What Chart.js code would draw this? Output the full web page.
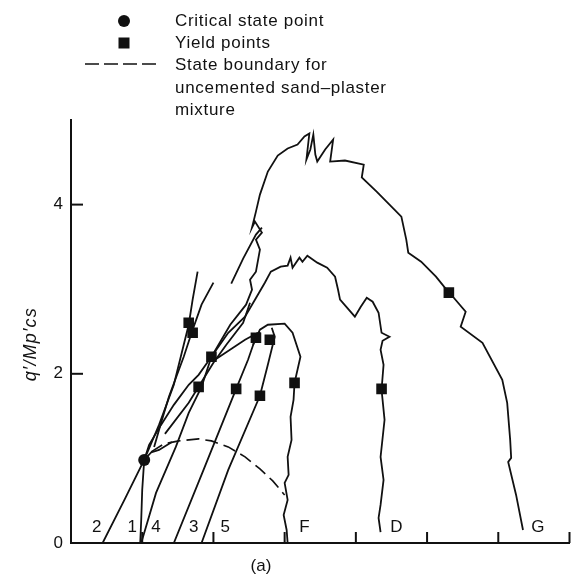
<!DOCTYPE html>
<html>
<head>
<meta charset="utf-8">
<script src="https://cdn.jsdelivr.net/npm/chart.js@4/dist/chart.umd.min.js"></script>
<style>
  html, body { margin: 0; padding: 0; background: #fff; }
  #wrap { width: 577px; height: 580px; position: relative; }
</style>
</head>
<body>
<div id="wrap"><canvas id="c" width="577" height="580"></canvas></div>
<script>
// ---- Data (x = p'/p'cs-type axis, y = q'/Mp'cs) ----
const curve2 = [[0.444,0],[0.75,0.509],[1.028,0.982],[1.236,1.396],[1.444,1.870],[1.583,2.343],[1.653,2.580],[1.708,2.876],[1.778,3.207]];
const curve2b = [[1.167,1.136],[1.278,1.456],[1.375,1.728],[1.583,2.201],[1.694,2.485],[1.833,2.817],[2.0,3.077]];
const curve1D = [[0.972,0],[0.986,0.272],[1.0,0.627],[1.028,0.982],[1.097,1.160],[1.264,1.396],[1.444,1.633],[1.653,1.870],[1.792,1.988],[1.972,2.201],[2.208,2.485],[2.444,2.675],[2.583,2.876],[2.722,3.077],[2.806,3.207],[2.944,3.266],[3.042,3.278],[3.083,3.373],[3.111,3.254],[3.208,3.373],[3.25,3.325],[3.319,3.396],[3.458,3.314],[3.597,3.254],[3.708,3.148],[3.75,2.994],[3.778,2.876],[3.986,2.675],[4.069,2.793],[4.153,2.899],[4.236,2.852],[4.319,2.722],[4.361,2.485],[4.472,2.438],[4.375,2.391],[4.347,2.284],[4.389,2.107],[4.361,1.811],[4.403,1.456],[4.347,1.018],[4.389,0.746],[4.347,0.450],[4.319,0.296],[4.347,0.130]];
const curve1Branch = [[1.028,0.982],[1.125,1.07],[1.236,1.10],[1.417,1.195]];
const curve4G = [[0.986,0],[1.194,0.592],[1.472,1.136],[1.653,1.538],[1.833,1.846],[1.972,2.201],[2.236,2.580],[2.458,2.817],[2.542,2.994],[2.514,3.112],[2.597,3.207],[2.653,3.467],[2.597,3.586],[2.681,3.669],[2.583,3.799],[2.542,3.728],[2.597,3.917],[2.653,4.118],[2.764,4.391],[2.903,4.580],[3.042,4.663],[3.181,4.710],[3.278,4.805],[3.347,4.840],[3.306,4.533],[3.361,4.651],[3.403,4.828],[3.431,4.592],[3.458,4.509],[3.569,4.651],[3.681,4.769],[3.639,4.509],[3.847,4.521],[4.111,4.473],[4.083,4.320],[4.292,4.154],[4.639,3.858],[4.708,3.586],[4.736,3.432],[4.917,3.325],[5.125,3.148],[5.306,2.959],[5.375,2.899],[5.542,2.734],[5.472,2.556],[5.778,2.367],[6.056,1.929],[6.125,1.657],[6.167,1.219],[6.181,1.006],[6.139,0.959],[6.25,0.568],[6.347,0.154]];
const strandA = [[1.319,1.290],[1.653,1.657],[1.861,1.941],[2.000,2.130],[2.181,2.343],[2.417,2.604],[2.514,2.840]];
const strandB = [[2.0,2.154],[2.444,2.402],[2.625,2.485]];
const strandC = [[2.250,3.065],[2.417,3.361],[2.597,3.645],[2.681,3.728]];
const curve3 = [[1.444,0],[1.861,0.864],[2.319,1.822],[2.486,2.166],[2.583,2.402],[2.653,2.497]];
const curve5 = [[1.833,0],[2.208,0.864],[2.653,1.740],[2.764,2.107],[2.861,2.438],[2.819,2.544]];
const curveF = [[2.556,2.343],[2.653,2.521],[2.764,2.580],[3.0,2.592],[3.111,2.485],[3.222,2.201],[3.139,1.893],[3.125,1.692],[3.083,1.491],[3.097,1.219],[3.042,1.018],[3.056,0.805],[3.0,0.710],[3.042,0.509],[2.986,0.331],[3.028,0.154],[3.042,0]];
const stateBoundary = [[1.125,1.077],[1.306,1.172],[1.514,1.207],[1.792,1.231],[1.972,1.207],[2.208,1.136],[2.444,1.018],[2.653,0.876],[2.833,0.734],[3.0,0.568]];
const criticalPoints = [[1.028,0.982]];
const yieldPoints = [[1.653,2.604],[1.708,2.485],[1.972,2.201],[1.792,1.846],[2.319,1.822],[2.653,1.740],[3.139,1.893],[4.361,1.822],[5.306,2.959],[2.597,2.426],[2.792,2.402]];
const yTickValues = [0, 2, 4];
const xTickValues = [1, 2, 3, 4, 5, 6, 7];
const curveLabels = [['2',0.361],['1',0.861],['4',1.194],['3',1.722],['5',2.167],['F',3.278],['D',4.569],['G',6.556]];
const legendItems = ['Critical state point', 'Yield points', 'State boundary for', 'uncemented sand\u2013plaster', 'mixture'];
const yTitle = "q\u2032/Mp\u2032cs";
const xTitle = '(a)';

const toXY = arr => arr.map(p => ({x: p[0], y: p[1]}));
const INK = '#111';
const FONT = '"Liberation Sans", Arial, sans-serif';

function lineSet(arr, extra) {
  return Object.assign({
    type: 'scatter', data: toXY(arr), showLine: true, borderColor: INK,
    borderWidth: 1.8, pointRadius: 0, tension: 0, fill: false
  }, extra || {});
}

const datasets = [
  lineSet(curve2), lineSet(curve2b), lineSet(curve1D), lineSet(curve1Branch),
  lineSet(curve4G), lineSet(strandA), lineSet(strandB), lineSet(strandC),
  lineSet(curve3), lineSet(curve5), lineSet(curveF),
  lineSet(stateBoundary, {borderDash: [13, 6], borderWidth: 1.6}),
  {type: 'scatter', data: toXY(yieldPoints), pointStyle: 'rect', pointRadius: 7.5,
   backgroundColor: INK, borderColor: INK, borderWidth: 0},
  {type: 'scatter', data: toXY(criticalPoints), pointStyle: 'circle', pointRadius: 6,
   backgroundColor: INK, borderColor: INK, borderWidth: 0}
];

const decor = {
  id: 'decor',
  afterDraw(chart) {
    const ctx = chart.ctx, xs = chart.scales.x, ys = chart.scales.y, ca = chart.chartArea;
    ctx.save();
    ctx.strokeStyle = INK; ctx.fillStyle = INK; ctx.lineWidth = 2;
    // inward ticks
    xTickValues.forEach(v => {
      const px = xs.getPixelForValue(v);
      ctx.beginPath(); ctx.moveTo(px, ca.bottom); ctx.lineTo(px, ca.bottom - 11); ctx.stroke();
    });
    yTickValues.filter(v => v > 0).forEach(v => {
      const py = ys.getPixelForValue(v);
      ctx.beginPath(); ctx.moveTo(ca.left, py); ctx.lineTo(ca.left + 12, py); ctx.stroke();
    });
    // curve labels
    ctx.font = '17px ' + FONT; ctx.textAlign = 'center'; ctx.textBaseline = 'middle';
    curveLabels.forEach(l => {
      ctx.fillText(l[0], xs.getPixelForValue(l[1]), ys.getPixelForValue(0.18));
    });
    // x title
    ctx.font = '17px ' + FONT;
    ctx.fillText(xTitle, xs.getPixelForValue(2.667), ca.bottom + 23);
    // y title
    ctx.save();
    ctx.translate(31, ys.getPixelForValue(2.35));
    ctx.rotate(-Math.PI / 2);
    ctx.font = 'italic 18px ' + FONT;
    ctx.letterSpacing = '1.2px';
    ctx.fillText(yTitle, 0, 0);
    ctx.restore();
    // legend
    ctx.beginPath(); ctx.arc(124, 21, 6, 0, Math.PI * 2); ctx.fill();
    ctx.fillRect(118.5, 37.5, 11, 11);
    ctx.lineWidth = 1.6; ctx.setLineDash([14, 5]);
    ctx.beginPath(); ctx.moveTo(85, 64); ctx.lineTo(157, 64); ctx.stroke();
    ctx.setLineDash([]);
    ctx.font = '17px ' + FONT; ctx.textAlign = 'left';
    ctx.letterSpacing = '0.7px';
    legendItems.forEach((t, i) => ctx.fillText(t, 175, 21 + i * 22.3));
    ctx.restore();
  }
};

new Chart(document.getElementById('c'), {
  type: 'scatter',
  data: {datasets},
  options: {
    responsive: false, animation: false, devicePixelRatio: 1,
    layout: {padding: {top: 120, right: 2, left: 0, bottom: 0}},
    plugins: {legend: {display: false}, tooltip: {enabled: false}},
    scales: {
      x: {
        type: 'linear', min: 0, max: 7,
        grid: {display: false, drawTicks: false},
        border: {display: true, color: INK, width: 2},
        ticks: {display: false},
        afterFit(s) { s.height = 37; }
      },
      y: {
        type: 'linear', min: 0, max: 5,
        grid: {display: false, drawTicks: false},
        border: {display: true, color: INK, width: 2},
        afterBuildTicks(s) { s.ticks = yTickValues.map(v => ({value: v})); },
        ticks: {color: INK, padding: 8, font: {size: 17, family: FONT}},
        afterFit(s) { s.width = 71; }
      }
    }
  },
  plugins: [decor]
});
</script>
</body>
</html>
